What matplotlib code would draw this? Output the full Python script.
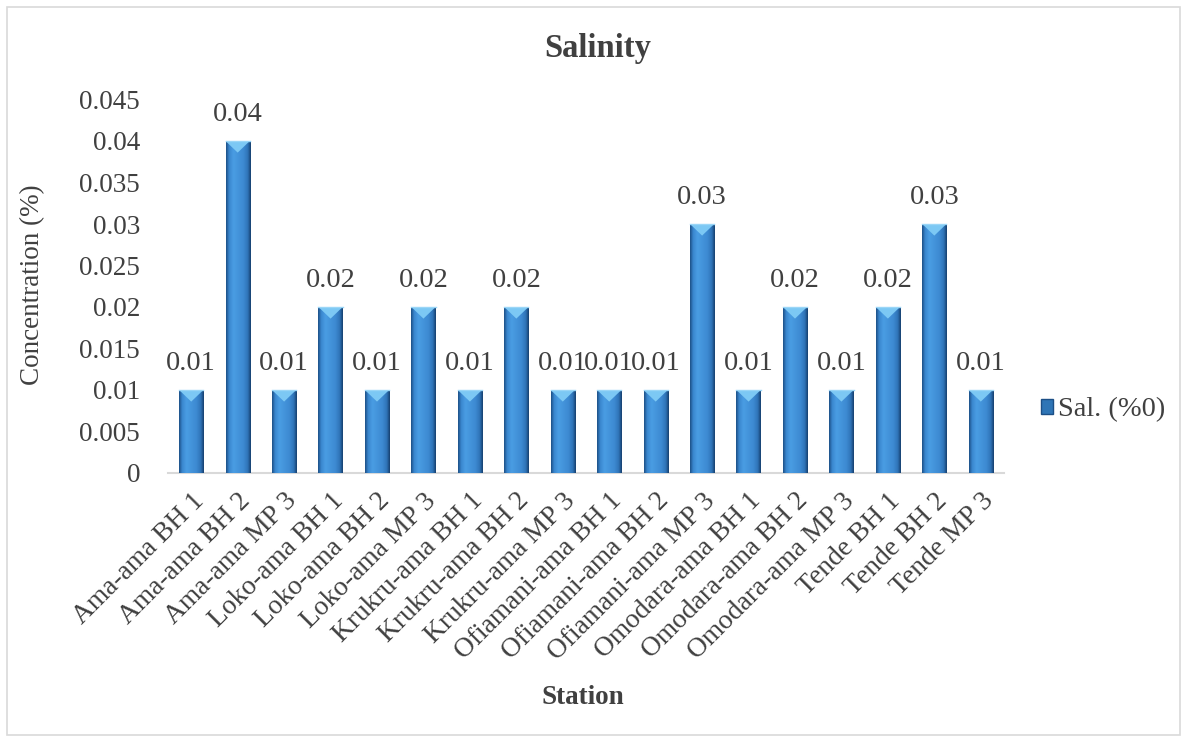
import numpy as np
import matplotlib
matplotlib.use("Agg")
import matplotlib.pyplot as plt
from matplotlib.patches import Polygon, Rectangle, Patch
from matplotlib.colors import LinearSegmentedColormap

plt.rcParams['font.family'] = ['Liberation Serif', 'DejaVu Serif']

stations = ["Ama-ama BH 1", "Ama-ama BH 2", "Ama-ama MP 3",
            "Loko-ama BH 1", "Loko-ama BH 2", "Loko-ama MP 3",
            "Krukru-ama BH 1", "Krukru-ama BH 2", "Krukru-ama MP 3",
            "Ofiamani-ama BH 1", "Ofiamani-ama BH 2", "Ofiamani-ama MP 3",
            "Omodara-ama BH 1", "Omodara-ama BH 2", "Omodara-ama MP 3",
            "Tende BH 1", "Tende BH 2", "Tende MP 3"]
salinity = [0.01, 0.04, 0.01, 0.02, 0.01, 0.02, 0.01, 0.02, 0.01,
            0.01, 0.01, 0.03, 0.01, 0.02, 0.01, 0.02, 0.03, 0.01]
yticks = [0, 0.005, 0.01, 0.015, 0.02, 0.025, 0.03, 0.035, 0.04, 0.045]
ytick_labels = ["0", "0.005", "0.01", "0.015", "0.02", "0.025", "0.03",
                "0.035", "0.04", "0.045"]

TXT = '#404040'
W, H = 1189, 742
fig = plt.figure(figsize=(W / 100, H / 100), dpi=100)
ax = fig.add_axes([168 / W, 1 - 473 / H, (1004 - 168) / W, (473 - 99.5) / H])

# horizontal shading across each bar: dark rims, bright inner band
bar_cmap = LinearSegmentedColormap.from_list(
    "bevel", [(0.0, '#1c4f86'), (0.12, '#3a87cf'), (0.3, '#4a9de3'),
              (0.7, '#3d8ad2'), (0.88, '#2f74b8'), (1.0, '#163f6e')])
grad = np.linspace(0, 1, 64).reshape(1, -1)

bw = 0.52
x = np.arange(len(stations))
bars = ax.bar(x, salinity, width=bw, color='#2e75b6', zorder=2)
for rect, v in zip(bars, salinity):
    x0 = rect.get_x()
    x1 = x0 + rect.get_width()
    im = ax.imshow(grad, extent=[x0, x1, 0, v], aspect='auto',
                   cmap=bar_cmap, zorder=3, interpolation='bicubic')
    im.set_clip_path(rect)
    # light bevel on the top face
    tri = Polygon([[x0, v], [x1, v], [(x0 + x1) / 2, v - 0.0014]],
                  closed=True, facecolor='#7cc8f4', edgecolor='none', zorder=4)
    ax.add_patch(tri)
    ax.plot([x0, x1], [v, v], color='#9ad6f7', lw=1.0, zorder=5)
    ax.text((x0 + x1) / 2, v + 0.0017, f"{v:g}", ha='center', va='bottom',
            fontsize=20.5, color=TXT, zorder=6)

ax.set_xlim(-0.5, len(stations) - 0.5)
ax.set_ylim(0, 0.045)
ax.set_yticks(yticks)
ax.set_yticklabels(ytick_labels, fontsize=19.5, color=TXT)
ax.set_xticks(x)
ax.set_xticklabels(stations, rotation=45, ha='right', rotation_mode='anchor',
                   fontsize=19.8, color=TXT)
ax.tick_params(axis='both', length=0)
ax.tick_params(axis='y', pad=20)
ax.tick_params(axis='x', pad=11)
for s in ['top', 'right', 'left']:
    ax.spines[s].set_visible(False)
ax.spines['bottom'].set_color('#d9d9d9')
ax.spines['bottom'].set_linewidth(1.5)

fig.text(33 / W, 1 - 285 / H, "Concentration (%)", rotation=90,
         ha='center', va='center', fontsize=19.5, color=TXT)
fig.text(583 / W, 1 - 698 / H, "Station", ha='center', va='center',
         fontsize=19.5, fontweight='bold', color=TXT)
fig.text(598 / W, 1 - 48 / H, "Salinity", ha='center', va='center',
         fontsize=23.5, fontweight='bold', color=TXT)

fig.legend(handles=[Patch(facecolor='#2e75b6', edgecolor='#1c4f86',
                          label="Sal. (%0)")],
           loc='center left', bbox_to_anchor=(1015 / W, 1 - 410 / H),
           frameon=False, fontsize=20.5, handlelength=0.45,
           handleheight=0.45, handletextpad=0.15, labelcolor=TXT)

fig.patches.append(Rectangle((7 / W, 7 / H), (1180 - 7) / W, (735 - 7) / H,
                             transform=fig.transFigure, fill=False,
                             edgecolor='#d9d9d9', lw=1.2))

fig.savefig("out.png", dpi=100, facecolor='white')
